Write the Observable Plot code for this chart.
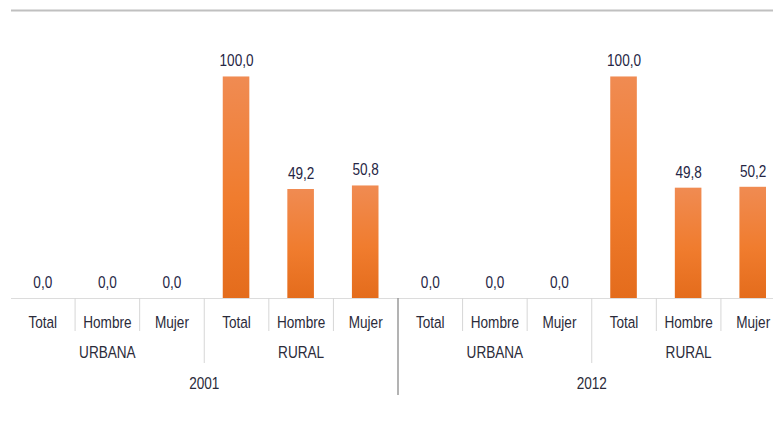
<!DOCTYPE html>
<html>
<head>
<meta charset="utf-8">
<script src="https://cdn.jsdelivr.net/npm/d3@7"></script>
<script src="https://cdn.jsdelivr.net/npm/@observablehq/plot@0.6"></script>
<style>
  html, body { margin: 0; padding: 0; background: #fff; }
  svg { display: block; }
</style>
</head>
<body>
<div id="chart"></div>
<script>
const years = ["2001", "2012"];
const areas = ["URBANA", "RURAL"];
const sexes = ["Total", "Hombre", "Mujer"];
const values2001 = [0.0, 0.0, 0.0, 100.0, 49.2, 50.8];
const values2012 = [0.0, 0.0, 0.0, 100.0, 49.8, 50.2];

const valuesByYear = {"2001": values2001, "2012": values2012};
const rows = [];
years.forEach((yr, yi) => {
  areas.forEach((ar, ai) => {
    sexes.forEach((sx, si) => {
      const i = yi * areas.length * sexes.length + ai * sexes.length + si;
      rows.push({i, year: yr, area: ar, sex: sx, value: valuesByYear[yr][ai * sexes.length + si]});
    });
  });
});
const nCat = rows.length;
const groupRows = [];
years.forEach((yr, yi) => areas.forEach((ar, ai) => {
  groupRows.push({area: ar, start: (yi * areas.length + ai) * sexes.length});
}));
const yearRows = years.map((yr, yi) => ({year: yr, start: yi * areas.length * sexes.length}));

const subSeps = rows.filter(d => d.i % sexes.length !== 0).map(d => d.i);
const groupSeps = groupRows.filter(d => d.start % (areas.length * sexes.length) !== 0).map(d => d.start);
const yearSeps = yearRows.filter(d => d.start !== 0).map(d => d.start);

const fmt = v => d3.format(".1f")(v).replace(".", ",");
const font = "'Liberation Sans', Arial, sans-serif";

const plot = Plot.plot({
  width: 773,
  height: 446,
  marginTop: 10,
  marginBottom: 148,
  marginLeft: 10,
  marginRight: 0,
  style: {fontFamily: font, fontSize: "16px", background: "#fff"},
  x: {type: "linear", domain: [0, nCat], range: [10, 785], axis: null},
  y: {domain: [0, 130], axis: null},
  marks: [
    Plot.ruleY([130], {stroke: "#c0c0c0", strokeWidth: 2, insetLeft: 1}),
    Plot.rectY(rows, {x1: d => d.i, x2: d => d.i + 1, y: "value", insetLeft: 19, insetRight: 19, fill: "url(#barGrad)"}),
    Plot.ruleY([0], {stroke: "#dcdcdc", strokeWidth: 1, insetLeft: 1}),
    Plot.ruleX(subSeps, {x: d => d, stroke: "#d6d6d6", insetTop: 288, insetBottom: -33}),
    Plot.ruleX(groupSeps, {x: d => d, stroke: "#d6d6d6", insetTop: 288, insetBottom: -65}),
    Plot.ruleX(yearSeps, {x: d => d, stroke: "#9a9a9a", strokeWidth: 1.5, insetTop: 288, insetBottom: -97}),
    Plot.text(rows, {x: d => d.i + 0.5, y: "value", text: d => fmt(d.value), dy: -16, lineAnchor: "middle", fill: "#262645", fontSize: 17}),
    Plot.text(rows, {x: d => d.i + 0.5, text: "sex", frameAnchor: "bottom", lineAnchor: "middle", dy: 24, fill: "#2b2b3a", fontSize: 17}),
    Plot.text(groupRows, {x: d => d.start + sexes.length / 2, text: "area", frameAnchor: "bottom", lineAnchor: "middle", dy: 54, fill: "#2b2b3a", fontSize: 17}),
    Plot.text(yearRows, {x: d => d.start + areas.length * sexes.length / 2, text: "year", frameAnchor: "bottom", lineAnchor: "middle", dy: 85, fill: "#2b2b3a", fontSize: 17})
  ]
});

// narrow the text horizontally around each label's own anchor (Arial Narrow look)
plot.querySelectorAll("text").forEach(t => {
  const tr = t.getAttribute("transform");
  if (tr) {
    t.setAttribute("transform", tr + " scale(0.8,1)");
  } else {
    const x = +t.getAttribute("x") || 0, y = +t.getAttribute("y") || 0;
    t.removeAttribute("x"); t.removeAttribute("y");
    t.setAttribute("transform", `translate(${x},${y}) scale(0.8,1)`);
  }
});

const ns = "http://www.w3.org/2000/svg";
const defs = document.createElementNS(ns, "defs");
const grad = document.createElementNS(ns, "linearGradient");
grad.setAttribute("id", "barGrad");
grad.setAttribute("x1", "0"); grad.setAttribute("y1", "0");
grad.setAttribute("x2", "0"); grad.setAttribute("y2", "1");
[["0%", "#f08b52"], ["55%", "#f07c2e"], ["100%", "#e46c1c"]].forEach(([o, c]) => {
  const s = document.createElementNS(ns, "stop");
  s.setAttribute("offset", o); s.setAttribute("stop-color", c);
  grad.appendChild(s);
});
defs.appendChild(grad);
plot.insertBefore(defs, plot.firstChild);
document.getElementById("chart").appendChild(plot);
</script>
</body>
</html>
